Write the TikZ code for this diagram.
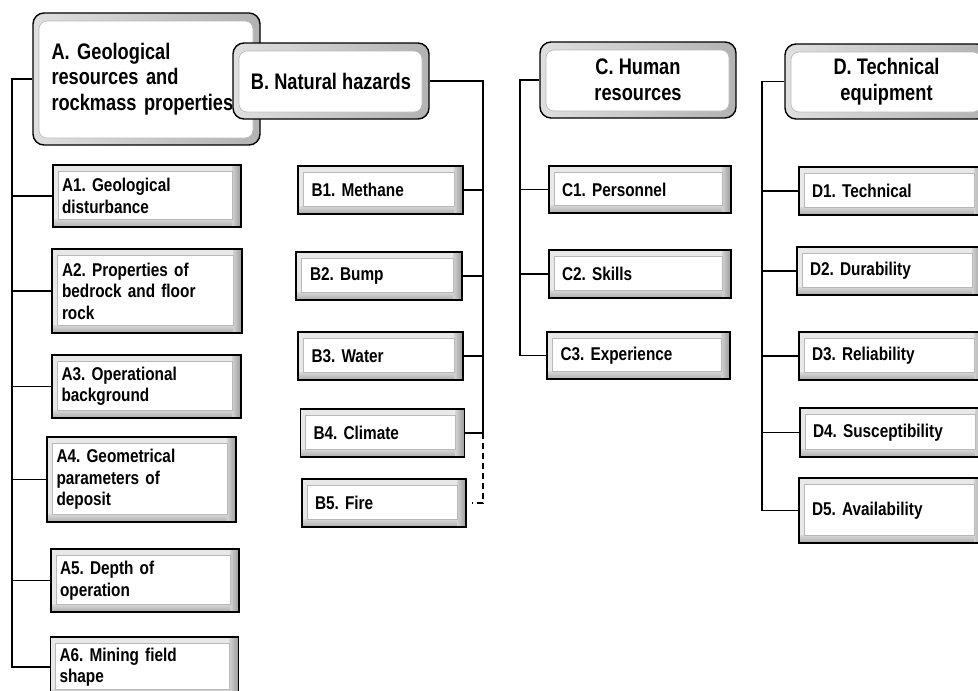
\documentclass[tikz,border=0pt]{standalone}
\usepackage{fontspec}
\newfontfamily\leaffont{Liberation Sans}[FakeStretch=0.83]
\newfontfamily\rootfont{Liberation Sans}[FakeStretch=0.81]
\frenchspacing
\begin{document}
\begin{tikzpicture}[x=1pt,y=-1pt,
  conn/.style={draw=black,line width=1.3pt},
  dconn/.style={conn,dash pattern=on 6pt off 4pt},
  leafbevel/.style={path picture={
     \path[fill=gray!18,draw=none] (path picture bounding box.south west) rectangle (path picture bounding box.north east);
     \path[top color=gray!30,bottom color=gray!65,draw=none] (path picture bounding box.south west) rectangle ([yshift=8pt]path picture bounding box.south east);
     \path[left color=gray!35,right color=gray!80,draw=none] ([xshift=-9pt]path picture bounding box.north east) rectangle (path picture bounding box.south east);
     \path[fill=white,draw=gray!55,line width=0.6pt] ([xshift=5pt,yshift=8pt]path picture bounding box.south west) rectangle ([xshift=-9pt,yshift=-6pt]path picture bounding box.north east);
  }},
  rootbevel/.style={path picture={
     \path[left color=gray!25,right color=gray!60,draw=none] (path picture bounding box.south west) rectangle (path picture bounding box.north east);
     \path[fill=white,draw=gray!55,line width=0.6pt,rounded corners=8pt] ([xshift=6pt,yshift=7pt]path picture bounding box.south west) rectangle ([xshift=-7pt,yshift=-8pt]path picture bounding box.north east);
  }},
  leafbox/.style={rectangle,draw=black,line width=1.3pt,inner ysep=0pt,align=left,
     font=\leaffont\bfseries\fontsize{18.5}{21.5}\selectfont\frenchspacing,leafbevel},
  colA/.style={leafbox,inner xsep=9pt,text width=170pt},
  colB/.style={leafbox,inner xsep=13pt,text width=138pt},
  colC/.style={leafbox,inner xsep=13pt,text width=156pt},
  colD/.style={leafbox,inner xsep=13pt,text width=158pt},
  rootbox/.style={rectangle,rounded corners=11pt,draw=black,line width=1.4pt,inner sep=0pt,align=center,
     font=\rootfont\bfseries\fontsize{22.5}{25.5}\selectfont\frenchspacing,rootbevel}
]
\useasboundingbox (0,0) rectangle (978,691);
\clip (0,0) rectangle (978,691);

% roots
\node[rootbox,align=left,text width=190pt,inner xsep=18.5pt,minimum width=227pt,minimum height=132pt] (A) at (146.5,79) {A. Geological\\resources and\\rockmass properties};
\node[rootbox,minimum width=196pt,minimum height=76pt] (B) at (331,81) {B. Natural hazards};
\node[rootbox,minimum width=196pt,minimum height=76pt] (C) at (638,80) {C. Human\\resources};
\node[rootbox,minimum width=203pt,minimum height=75pt] (D) at (886.5,81.5) {D. Technical\\equipment};

% column A
\node[colA,minimum width=188pt,minimum height=62pt] (A1) at (147,196) {A1. Geological\\disturbance};
\node[colA,minimum width=190pt,minimum height=84pt] (A2) at (147,291) {A2. Properties of\\bedrock and floor\\rock};
\node[colA,minimum width=189pt,minimum height=63pt] (A3) at (146.5,386.5) {A3. Operational\\background};
\node[colA,minimum width=189pt,minimum height=85pt] (A4) at (141.5,479.5) {A4. Geometrical\\parameters of\\deposit};
\node[colA,minimum width=188pt,minimum height=63pt] (A5) at (145,580.5) {A5. Depth of\\operation};
\node[colA,minimum width=187pt,minimum height=60pt] (A6) at (144.5,667) {A6. Mining field\\shape};

% column B
\node[colB,minimum width=165pt,minimum height=48pt] (B1) at (380.5,190) {B1. Methane};
\node[colB,minimum width=166pt,minimum height=48pt] (B2) at (379,276) {B2. Bump};
\node[colB,minimum width=165pt,minimum height=48pt] (B3) at (380.5,356) {B3. Water};
\node[colB,minimum width=163pt,minimum height=48pt] (B4) at (382.5,433) {B4. Climate};
\node[colB,minimum width=164pt,minimum height=48pt] (B5) at (384,503) {B5. Fire};

% column C
\node[colC,minimum width=182pt,minimum height=47pt] (C1) at (640,189.5) {C1. Personnel};
\node[colC,minimum width=182pt,minimum height=48pt] (C2) at (640,274) {C2. Skills};
\node[colC,minimum width=183pt,minimum height=47pt] (C3) at (638.5,355.5) {C3. Experience};

% column D
\node[colD,minimum width=184pt,minimum height=48pt] (D1) at (891,191) {D1. Technical};
\node[colD,minimum width=184pt,minimum height=48pt] (D2) at (889,271) {D2. Durability};
\node[colD,minimum width=184pt,minimum height=48pt] (D3) at (891,356) {D3. Reliability};
\node[colD,minimum width=184pt,minimum height=49pt] (D4) at (892,432.5) {D4. Susceptibility};
\node[colD,minimum width=184pt,minimum height=65pt] (D5) at (891,510.5) {D5. Availability};

% connectors A
\coordinate (ta) at (12,79);
\draw[conn] (A.west) -- (ta) -- (ta |- A6.west) -- (A6.west);
\foreach \n in {A1,A2,A3,A4,A5} \draw[conn] (\n.west) -- (\n.west -| ta);

% connectors B
\coordinate (tb) at (483,81);
\draw[conn] (B.east) -- (tb) -- (tb |- B4.east) -- (B4.east);
\foreach \n in {B1,B2,B3} \draw[conn] (\n.east) -- (\n.east -| tb);
\draw[dconn,shorten >=5pt] (tb |- B4.east) -- (tb |- B5.east) -- (B5.east);

% connectors C
\coordinate (tc) at (520,80);
\draw[conn] (C.west) -- (tc) -- (tc |- C3.west) -- (C3.west);
\foreach \n in {C1,C2} \draw[conn] (\n.west) -- (\n.west -| tc);

% connectors D
\coordinate (td) at (762,81.5);
\draw[conn] (D.west) -- (td) -- (td |- D5.west) -- (D5.west);
\foreach \n in {D1,D2,D3,D4} \draw[conn] (\n.west) -- (\n.west -| td);
\end{tikzpicture}
\end{document}
